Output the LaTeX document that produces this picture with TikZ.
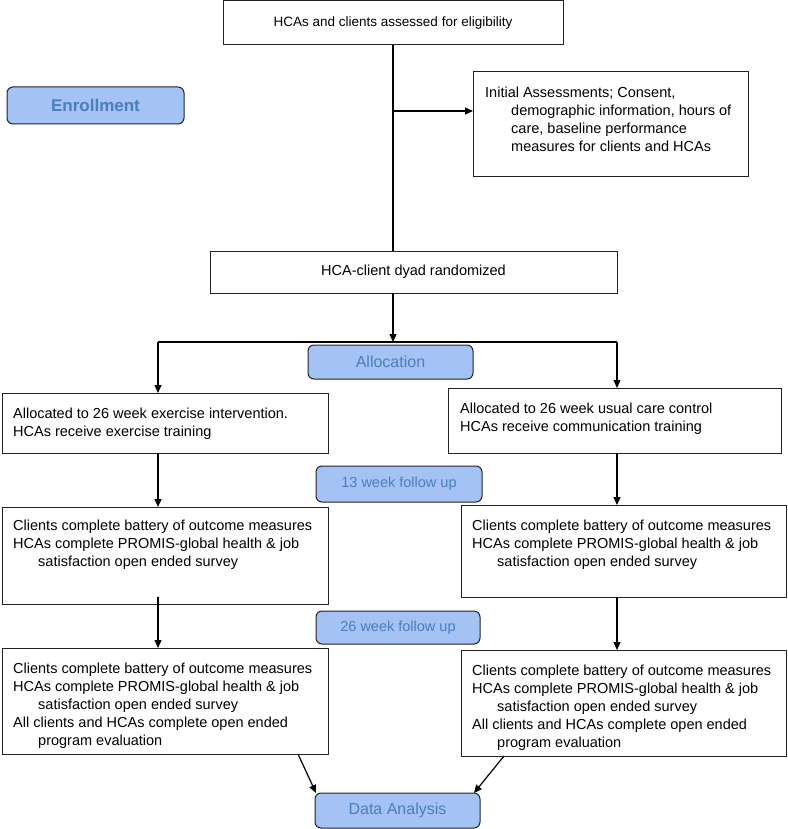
\documentclass[tikz,border=0pt]{standalone}
\usepackage{fontspec}
\setmainfont{Liberation Sans}
\usetikzlibrary{arrows.meta,calc}
\definecolor{tagfill}{HTML}{A4C2F4}
\definecolor{tagtext}{HTML}{4A7EBB}
\definecolor{edge}{HTML}{222222}
\begin{document}
\begin{tikzpicture}[x=1pt,y=-1pt,
  box/.style={draw=edge, line width=1pt, anchor=north west, inner sep=0pt, outer sep=0pt,
    font=\fontsize{14.5}{18}\selectfont},
  tag/.style={box, fill=tagfill, rounded corners=6pt, text=tagtext},
  txt/.style={anchor=north west, inner sep=0pt, align=left, font=\fontsize{14.5}{18}\selectfont},
  arr/.style={line width=1.2pt, draw=black, -{Triangle[length=8pt,width=7pt]}},
  ln/.style={line width=1.2pt, draw=black}]
\useasboundingbox (0,0) rectangle (787,829);

% boxes
\node[box, minimum width=340pt, minimum height=44pt] (top) at (223,1)
  {\fontsize{13.5}{16}\selectfont HCAs and clients assessed for eligibility};
\node[tag, minimum width=177pt, minimum height=37pt,
  font=\fontsize{17}{20}\selectfont\bfseries] (enroll) at (7,87) {Enrollment};
\node[box, minimum width=275pt, minimum height=105pt] (init) at (473,72) {};
\node[txt] (initt) at ($(init.north west)+(12,14.5)$)
  {Initial Assessments; Consent,\\
   \hspace*{26pt}demographic information, hours of\\
   \hspace*{26pt}care, baseline performance\\
   \hspace*{26pt}measures for clients and HCAs};
\node[box, minimum width=407pt, minimum height=42pt] (rand) at (210,251)
  {HCA-client dyad randomized};
\node[tag, minimum width=165pt, minimum height=34pt,
  font=\fontsize{16}{19}\selectfont] (alloc) at (308,345) {Allocation};

\node[box, minimum width=326pt, minimum height=60pt] (L1) at (2,393) {};
\node[txt] (L1t) at ($(L1.north west)+(11,14.5)$)
  {Allocated to 26 week exercise intervention.\\
   HCAs receive exercise training};
\node[box, minimum width=333pt, minimum height=65pt] (R1) at (448,388) {};
\node[txt] (R1t) at ($(R1.north west)+(12,14.5)$)
  {Allocated to 26 week usual care control\\
   HCAs receive communication training};

\node[tag, minimum width=166pt, minimum height=36pt] (w13) at (316,466) {13 week follow up};

\node[box, minimum width=326pt, minimum height=97pt] (L2) at (2,507) {};
\node[txt] (L2t) at ($(L2.north west)+(11,12.5)$)
  {Clients complete battery of outcome measures\\
   HCAs complete PROMIS-global health \& job\\
   \hspace*{25pt}satisfaction open ended survey};
\node[box, minimum width=325pt, minimum height=92pt] (R2) at (461,505) {};
\node[txt] (R2t) at ($(R2.north west)+(11,14.5)$)
  {Clients complete battery of outcome measures\\
   HCAs complete PROMIS-global health \& job\\
   \hspace*{25pt}satisfaction open ended survey};

\node[tag, minimum width=164pt, minimum height=33pt] (w26) at (316,611) {26 week follow up};

\node[box, minimum width=326pt, minimum height=106pt] (L3) at (2,648) {};
\node[txt] (L3t) at ($(L3.north west)+(11,14.5)$)
  {Clients complete battery of outcome measures\\
   HCAs complete PROMIS-global health \& job\\
   \hspace*{25pt}satisfaction open ended survey\\
   All clients and HCAs complete open ended\\
   \hspace*{25pt}program evaluation};
\node[box, minimum width=325pt, minimum height=106pt] (R3) at (461,650) {};
\node[txt] (R3t) at ($(R3.north west)+(11,14.5)$)
  {Clients complete battery of outcome measures\\
   HCAs complete PROMIS-global health \& job\\
   \hspace*{25pt}satisfaction open ended survey\\
   All clients and HCAs complete open ended\\
   \hspace*{25pt}program evaluation};

\node[tag, minimum width=165pt, minimum height=35pt,
  font=\fontsize{16}{19}\selectfont] (da) at (315,793) {Data Analysis};

% connectors
\coordinate (br) at (top.south |- 0,111);
\coordinate (sp) at (top.south |- 0,342);
\coordinate (spL) at (158,342);
\coordinate (spR) at (617,342);
\draw[ln] (top.south) -- (top.south |- rand.north);
\draw[arr] (br) -- (br -| init.west);
\draw[arr] (top.south |- rand.south) -- (sp);
\draw[ln] (spL) -- (spR);
\draw[arr] (spL) -- (spL |- L1.north);
\draw[arr] (spR) -- (spR |- R1.north);
\draw[arr] (spL |- L1.south) -- (spL |- L2.north);
\draw[arr] (spR |- R1.south) -- (spR |- R2.north);
\draw[arr] ($(spL |- L2.south)+(0,-7)$) -- (spL |- L3.north);
\draw[arr] (spR |- R2.south) -- (spR |- R3.north);
\draw[arr] ($(L3.south east)+(-30,0)$) -- ($(da.north west)+(1,0)$);
\draw[arr] ($(R3.south west)+(43,0)$) -- ($(da.north east)+(-6,0)$);
\end{tikzpicture}
\end{document}
